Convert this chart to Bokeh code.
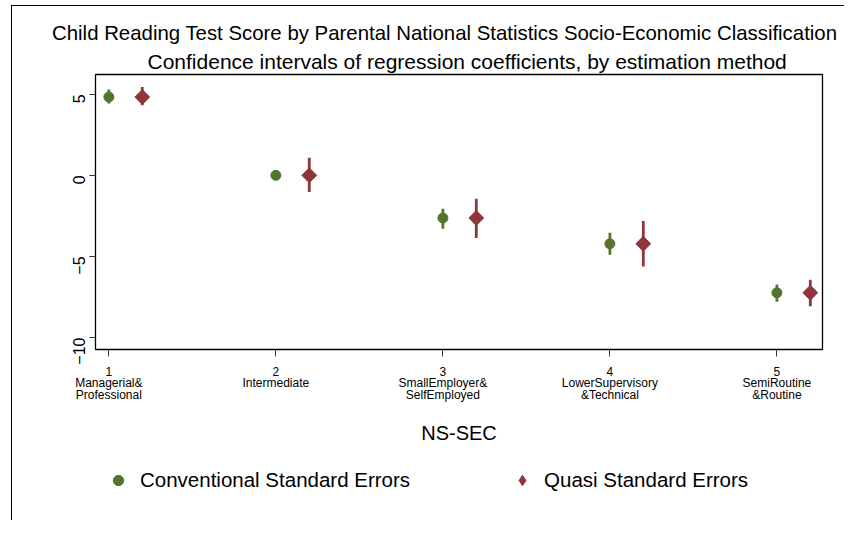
import math
from bokeh.plotting import figure
from bokeh.layouts import column
from bokeh.models import Legend, LegendItem, Title, FixedTicker
from bokeh.embed import file_html
from bokeh.resources import INLINE

# ---- data ----
categories = [1, 2, 3, 4, 5]
cat_labels = ["1\nManagerial&\nProfessional", "2\nIntermediate",
              "3\nSmallEmployer&\nSelfEmployed", "4\nLowerSupervisory\n&Technical",
              "5\nSemiRoutine\n&Routine"]
estimate = [4.83, 0.0, -2.63, -4.22, -7.24]
conv_lo = [4.43, 0.0, -3.29, -4.90, -7.80]
conv_hi = [5.29, 0.0, -2.06, -3.54, -6.73]
quasi_lo = [4.32, -1.03, -3.87, -5.62, -8.07]
quasi_hi = [5.45, 1.09, -1.44, -2.82, -6.44]
quasi_shift = 0.2
y_ticks = [-10, -5, 0, 5]
series_names = ["Conventional Standard Errors", "Quasi Standard Errors"]

GREEN = "#55752f"
MAROON = "#90353b"
FONT = "Liberation Sans"

quasi_x = [c + quasi_shift for c in categories]

# ---------------- main chart ----------------
p1 = figure(width=833, height=449, output_backend="svg", toolbar_location=None,
            x_range=(0.92, 5.273), y_range=(-10.74, 6.22),
            min_border_left=83, min_border_right=23, min_border_top=68,
            min_border_bottom=106, title=None,
            styles={"margin-left": "11px", "margin-top": "5px",
                    "border-left": "1px solid #000", "border-top": "1px solid #000"})

p1.background_fill_color = "white"
p1.border_fill_color = "white"
p1.outline_line_color = "black"
p1.outline_line_width = 1.3
p1.xgrid.visible = False
p1.ygrid.visible = False

p1.segment(x0=categories, y0=conv_lo, x1=categories, y1=conv_hi,
           line_color=GREEN, line_width=2.8)
p1.segment(x0=quasi_x, y0=quasi_lo, x1=quasi_x, y1=quasi_hi,
           line_color=MAROON, line_width=2.8)
p1.scatter(x=categories, y=estimate, marker="circle", size=10,
           fill_color=GREEN, line_color=GREEN)
p1.scatter(x=quasi_x, y=estimate, marker="square", angle=math.pi / 4,
           size=10.5, fill_color=MAROON, line_color=MAROON)

yax = p1.yaxis[0]
yax.ticker = FixedTicker(ticks=y_ticks)
yax.minor_tick_line_color = None
yax.major_tick_out = 6
yax.major_tick_in = 0
yax.major_tick_line_color = "#333333"
yax.axis_line_color = "black"
yax.major_label_orientation = math.pi / 2
yax.major_label_text_font = FONT
yax.major_label_text_font_size = "16px"
yax.major_label_text_color = "black"
yax.major_label_standoff = 10

xax = p1.xaxis[0]
xax.ticker = FixedTicker(ticks=categories)
xax.major_label_overrides = {c: lab for c, lab in zip(categories, cat_labels)}
xax.minor_tick_line_color = None
xax.major_tick_out = 7
xax.major_tick_in = 0
xax.major_tick_line_color = "#333333"
xax.axis_line_color = "black"
xax.major_label_text_font = FONT
xax.major_label_text_font_size = "12px"
xax.major_label_text_line_height = 0.85
xax.major_label_text_color = "black"
xax.major_label_standoff = 8
xax.axis_label = "NS-SEC"
xax.axis_label_text_font = FONT
xax.axis_label_text_font_size = "20px"
xax.axis_label_text_font_style = "normal"
xax.axis_label_text_color = "black"
xax.axis_label_standoff = 17

p1.add_layout(Title(text="Confidence intervals of regression coefficients, by estimation method",
                    align="left", offset=52, standoff=4,
                    text_font=FONT, text_font_size="21px", text_font_style="normal",
                    text_color="black"), "above")
p1.add_layout(Title(text="Child Reading Test Score by Parental National Statistics Socio-Economic Classification",
                    align="left", offset=-43.5, standoff=4,
                    text_font=FONT, text_font_size="20.4px", text_font_style="normal",
                    text_color="black"), "above")

# ---------------- legend strip ----------------
# ranges chosen so the proxy glyphs themselves stay out of view; only the legend shows
p2 = figure(width=833, height=66, output_backend="svg", toolbar_location=None,
            x_axis_type=None, y_axis_type=None, x_range=(100, 101), y_range=(100, 101),
            min_border=0, title=None,
            styles={"margin-left": "11px", "border-left": "1px solid #000"})
p2.outline_line_color = None
p2.background_fill_color = "white"
p2.border_fill_color = "white"
p2.xgrid.visible = False
p2.ygrid.visible = False

lg_conv = p2.scatter(x=categories, y=estimate, marker="circle",
                     fill_color=GREEN, line_color=GREEN)
lg_quasi = p2.scatter(x=quasi_x, y=estimate, marker="diamond",
                      fill_color=MAROON, line_color=MAROON)

legend = Legend(items=[LegendItem(label=series_names[0], renderers=[lg_conv]),
                       LegendItem(label=series_names[1], renderers=[lg_quasi])],
                orientation="horizontal", location=(10, 27),
                padding=0, margin=0, spacing=99, label_standoff=9,
                glyph_width=26, glyph_height=26, label_height=26,
                label_text_font=FONT, label_text_font_size="20.5px",
                label_text_color="black", border_line_color=None,
                background_fill_color=None)
p2.add_layout(legend, "center")

layout = column(p1, p2, spacing=0)
open("out.html", "w").write(file_html(layout, INLINE))
